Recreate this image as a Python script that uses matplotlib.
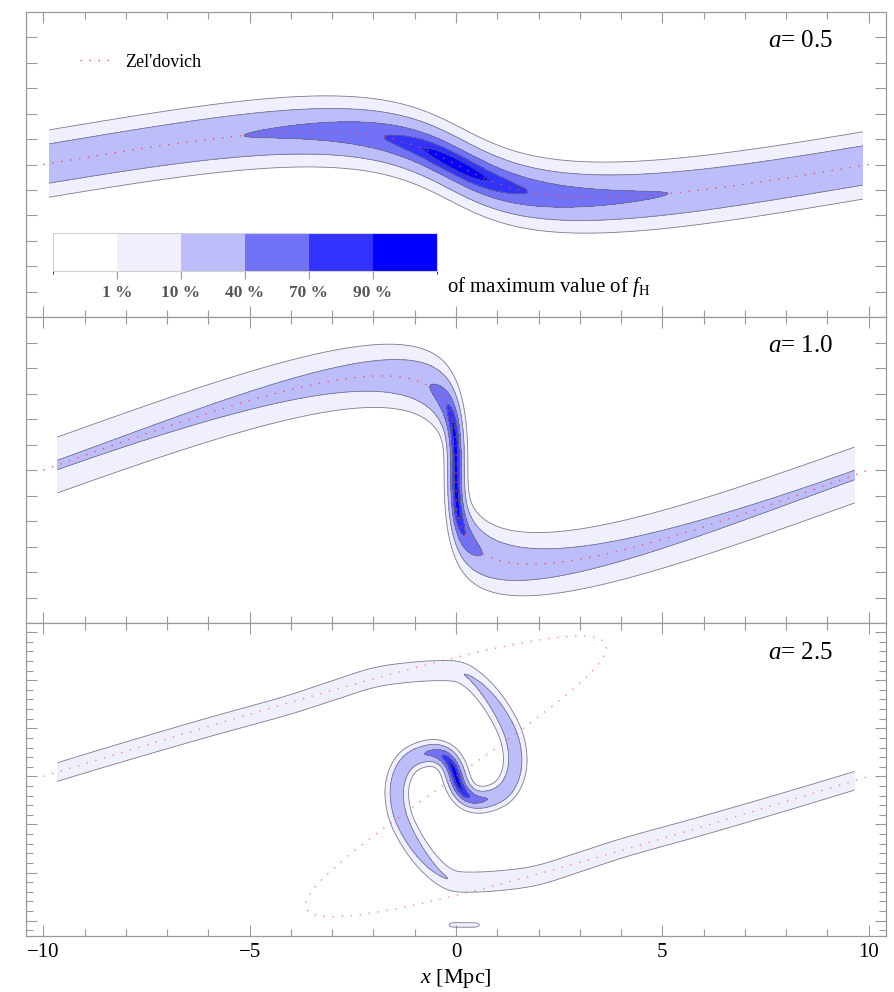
import numpy as np
import matplotlib
matplotlib.use("Agg")
import matplotlib.pyplot as plt
from matplotlib.colors import ListedColormap, BoundaryNorm
from matplotlib.cm import ScalarMappable
from matplotlib.ticker import MultipleLocator, FixedLocator

plt.rcParams['font.family'] = ['Liberation Serif', 'DejaVu Serif']
plt.rcParams['mathtext.fontset'] = 'custom'
plt.rcParams['mathtext.rm'] = 'Liberation Serif'
plt.rcParams['mathtext.it'] = 'Liberation Serif:italic'

# ---------------- data ----------------
scale_factors = ['0.5', '1.0', '2.5']
zel_shift = [1.63, 3.2, 8.0]       # Zel'dovich displacement amplitude [Mpc]
zel_vmax = [1.30, 3.69, 14.6]      # Zel'dovich velocity amplitude
half_period = 10.0                 # half wavelength of the initial mode [Mpc]
band_xmax = [9.86, 9.66, 9.66]     # extent of the f_H grid in x
v_limits = [(-6.0, 6.0), (-6.0, 6.0), (-16.6, 15.95)]
x_limits = (-10.42, 10.42)
level_fracs = [0.01, 0.10, 0.40, 0.70, 0.90]
level_labels = ['1 %', '10 %', '40 %', '70 %', '90 %']
band_colors = ['#f0f0fc', '#bdbdfa', '#7272f7', '#3333ff', '#0000ff']
smooth_x = [0.11, 0.095, 0.11]     # phase-space smoothing width in x, per panel
smooth_v = 0.5                     # phase-space smoothing width in velocity

# a = 2.5 sheet, from the far-left end to the centre
# (the other half is the point reflection through the origin)
sheet_x = [-10.3, -9.66, -8.0, -6.0, -4.0, -3.0, -1.96, -1.16, -0.35, 0.10,
           0.45, 0.82, 1.14, 1.36, 1.44, 1.36, 1.15, 0.82, 0.50, 0.25, 0.08, 0.0]
sheet_v = [-0.40, 0.45, 2.6, 5.1, 7.5, 8.9, 10.3, 10.8, 11.0, 10.85,
           9.9, 8.2, 6.1, 4.0, 1.6, -0.2, -1.6, -2.3, -2.45, -2.0, -1.0, 0.0]
sheet_amp = [0.055, 0.055, 0.058, 0.062, 0.066, 0.07, 0.075, 0.08, 0.087, 0.093,
             0.11, 0.16, 0.22, 0.26, 0.28, 0.30, 0.32, 0.36, 0.50, 0.78, 0.96, 1.0]
# faint patch near the lower edge of the a = 2.5 panel
stray_x = [-0.30, 0.70]
stray_v = [-15.45, -15.45]
stray_amp = [0.0112, 0.0112]


def centripetal(points, amps, n=60):
    P = np.vstack([2 * points[0] - points[1], points, 2 * points[-1] - points[-2]])
    out, out_a = [], []
    for i in range(1, len(P) - 2):
        p0, p1, p2, p3 = P[i - 1], P[i], P[i + 1], P[i + 2]
        t0 = 0.0
        t1 = t0 + max(np.hypot(*(p1 - p0)), 1e-6) ** 0.5
        t2 = t1 + max(np.hypot(*(p2 - p1)), 1e-6) ** 0.5
        t3 = t2 + max(np.hypot(*(p3 - p2)), 1e-6) ** 0.5
        t = np.linspace(t1, t2, n, endpoint=False)[:, None]
        a1 = (t1 - t) / (t1 - t0) * p0 + (t - t0) / (t1 - t0) * p1
        a2 = (t2 - t) / (t2 - t1) * p1 + (t - t1) / (t2 - t1) * p2
        a3 = (t3 - t) / (t3 - t2) * p2 + (t - t2) / (t3 - t2) * p3
        b1 = (t2 - t) / (t2 - t0) * a1 + (t - t0) / (t2 - t0) * a2
        b2 = (t3 - t) / (t3 - t1) * a2 + (t - t1) / (t3 - t1) * a3
        c = (t2 - t) / (t2 - t1) * b1 + (t - t1) / (t2 - t1) * b2
        out.append(c)
        f = ((t - t1) / (t2 - t1))[:, 0]
        out_a.append(amps[i - 1] * (1 - f) + amps[i] * f)
    out.append(points[-1][None, :])
    out_a.append(np.array([amps[-1]]))
    return np.vstack(out), np.concatenate(out_a)


def sheet_samples(xc, vc, ac, sx, ds=0.08):
    pts = np.column_stack([np.asarray(xc) / sx, np.asarray(vc) / smooth_v])
    dense, dense_a = centripetal(pts, np.asarray(ac, float))
    seg = np.hypot(*np.diff(dense, axis=0).T)
    s = np.concatenate([[0.0], np.cumsum(seg)])
    st = np.arange(0.0, s[-1], ds)
    x = np.interp(st, s, dense[:, 0]) * sx
    v = np.interp(st, s, dense[:, 1]) * smooth_v
    w = np.interp(st, s, dense_a) * ds / np.sqrt(2 * np.pi)
    return x, v, w


def husimi(px, pv, w, xs, vs, sx):
    gx = np.exp(-0.5 * ((xs[None, :] - px[:, None]) / sx) ** 2)
    gv = np.exp(-0.5 * ((vs[None, :] - pv[:, None]) / smooth_v) ** 2)
    return (gv * w[:, None]).T @ gx


def zeldovich(q, shift, vmax):
    phase = np.pi * q / half_period
    return q - shift * np.sin(phase), -vmax * np.sin(phase)


fig = plt.figure(figsize=(8.95, 9.92), dpi=100)
W, H = 895.0, 992.0
left, width = 26 / W, 860 / W
panel_px = [(12, 317), (317, 623), (623, 936)]
frame_col = '#9a9a9a'
dot_alpha = [0.9, 0.85, 0.6]
axes = []
for k, (top, bot) in enumerate(panel_px):
    ax = fig.add_axes([left, 1 - bot / H, width, (bot - top) / H])
    axes.append(ax)
    sx = smooth_x[k]
    xs = np.linspace(-band_xmax[k], band_xmax[k], 900)
    vs = np.linspace(v_limits[k][0], v_limits[k][1], 650)
    if k < 2:
        q = np.linspace(-10.6, 10.6, 6000)
        px, pv = zeldovich(q, zel_shift[k], zel_vmax[k])
        w = np.full_like(q, q[1] - q[0])
        F = husimi(px, pv, w, xs, vs, sx)
    else:
        hx, hv, ha = list(sheet_x), list(sheet_v), list(sheet_amp)
        full_x = hx + [-x for x in hx[-2::-1]]
        full_v = hv + [-v for v in hv[-2::-1]]
        full_a = ha + ha[-2::-1]
        px, pv, w = sheet_samples(full_x, full_v, full_a, sx)
        F = husimi(px, pv, w, xs, vs, sx)
        F /= F.max()
        tx, tv, tw = sheet_samples(stray_x, stray_v, stray_amp, sx)
        F = F + husimi(tx, tv, tw, xs, vs, sx)
    F = F / F.max()
    ax.contourf(xs, vs, F, levels=level_fracs + [1.01], colors=band_colors)
    ax.contour(xs, vs, F, levels=level_fracs, colors='#6a6a7c',
               linewidths=0.6, alpha=0.85)

    qz = np.linspace(-half_period, half_period, 3001)
    xz, vz = zeldovich(qz, zel_shift[k], zel_vmax[k])
    ax.plot(xz, vz, color='#ff4040', lw=1.0, dashes=(1.0, 5.5), alpha=dot_alpha[k],
            label="Zel'dovich")

    ax.set_xlim(*x_limits)
    ax.set_ylim(*v_limits[k])
    ax.xaxis.set_major_locator(MultipleLocator(5))
    ax.xaxis.set_minor_locator(MultipleLocator(1))
    if k < 2:
        ax.yaxis.set_major_locator(FixedLocator(np.arange(-5, 6)))
    else:
        ax.yaxis.set_major_locator(FixedLocator(np.arange(-15, 16, 5)))
        ax.yaxis.set_minor_locator(FixedLocator(np.arange(-16, 16)))
    ax.tick_params(which='both', direction='in', top=True, right=True,
                   color=frame_col, width=0.8, labelleft=False,
                   labelbottom=(k == 2), labelsize=15, pad=5)
    ax.tick_params(which='major', length=8)
    ax.tick_params(which='minor', length=5)
    for sp in ax.spines.values():
        sp.set_color(frame_col)
        sp.set_linewidth(0.9)
    ax.text(0.938, 0.905, r'$a$= ' + scale_factors[k], transform=ax.transAxes,
            ha='right', va='center', fontsize=18)

axes[2].set_xlabel(r'$x$ [Mpc]', fontsize=16, labelpad=4)

axes[0].legend(loc='center left', bbox_to_anchor=(0.0628, 0.836), frameon=False,
               fontsize=13, handlelength=1.7, handletextpad=0.8, borderpad=0,
               borderaxespad=0)

# level key
cax = fig.add_axes([53 / W, 1 - 271 / H, 384 / W, 38 / H])
bounds = [0.0] + level_fracs + [1.0]
sm = ScalarMappable(norm=BoundaryNorm(bounds, 6),
                    cmap=ListedColormap(['#ffffff'] + band_colors))
cb = fig.colorbar(sm, cax=cax, orientation='horizontal', spacing='uniform',
                  ticks=level_fracs)
cb.set_ticklabels(level_labels)
cb.outline.set_edgecolor('#d0d0d0')
cb.outline.set_linewidth(0.8)
cax.tick_params(direction='out', length=6, width=0.8, color=frame_col,
                labelcolor='#555555', labelsize=12.5, pad=4)
for t in cax.get_xticklabels():
    t.set_fontweight('bold')
fig.text(447 / W, 1 - 287 / H, r'of maximum value of $f_{\mathrm{H}}$',
         fontsize=15, va='center', ha='left')

fig.savefig('out.png', dpi=100)
